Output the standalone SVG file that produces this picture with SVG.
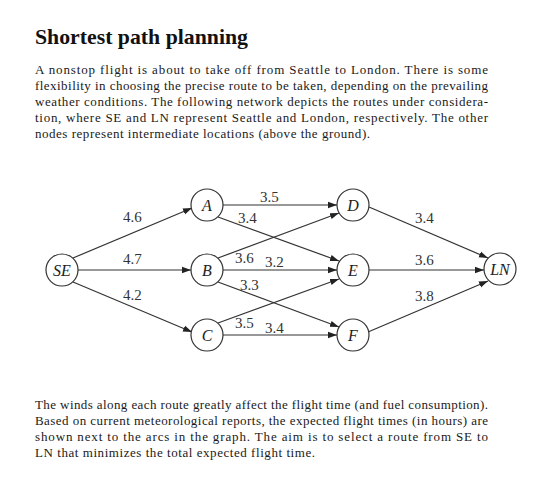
<svg xmlns="http://www.w3.org/2000/svg" width="540" height="479" viewBox="0 0 540 479">
<defs>
<marker id="ah" viewBox="0 0 10 10" refX="10" refY="5" markerWidth="9" markerHeight="9" markerUnits="userSpaceOnUse" orient="auto">
<path d="M0,1.5 L10,5 L0,8.5 Z" fill="#222"/>
</marker>
<style>
.t{font-family:"Liberation Serif","Times New Roman",serif;font-size:13px;fill:#1a1a1a}
.h{font-family:"Liberation Serif","Times New Roman",serif;font-size:21px;font-weight:bold;fill:#111}
.e{stroke:#333;stroke-width:1.2;fill:none;marker-end:url(#ah)}
.n circle{fill:#fff;stroke:#333;stroke-width:1.2}
.n text{font-family:"Liberation Serif","Times New Roman",serif;font-style:italic;font-size:16px;fill:#222;text-anchor:middle}
.w{font-family:"Liberation Serif","Times New Roman",serif;font-size:15px;fill:#333}
</style>
</defs>
<rect width="540" height="479" fill="#fff"/>
<text class="h" x="35" y="44" textLength="213" lengthAdjust="spacingAndGlyphs">Shortest path planning</text>
<g id="para1">
<text class="t" x="35" y="74" textLength="453" lengthAdjust="spacing">A nonstop flight is about to take off from Seattle to London.  There is some</text>
<text class="t" x="35" y="90" textLength="453" lengthAdjust="spacing">flexibility in choosing the precise route to be taken, depending on the prevailing</text>
<text class="t" x="35" y="106" textLength="453" lengthAdjust="spacing">weather conditions. The following network depicts the routes under considera-</text>
<text class="t" x="35" y="122" textLength="453" lengthAdjust="spacing">tion, where SE and LN represent Seattle and London, respectively. The other</text>
<text class="t" x="35" y="138" textLength="335" lengthAdjust="spacing">nodes represent intermediate locations (above the ground).</text>
</g>
<g id="connectors">
<line class="e" x1="73" y1="258" x2="192" y2="208"/>
<line class="e" x1="78" y1="270" x2="191" y2="270"/>
<line class="e" x1="73" y1="282" x2="192" y2="332"/>
<line class="e" x1="223" y1="205" x2="337" y2="205"/>
<line class="e" x1="218" y1="217" x2="339" y2="261"/>
<line class="e" x1="218" y1="258" x2="339" y2="213"/>
<line class="e" x1="223" y1="270" x2="337" y2="270"/>
<line class="e" x1="218" y1="282" x2="339" y2="327"/>
<line class="e" x1="218" y1="323" x2="339" y2="279"/>
<line class="e" x1="223" y1="335" x2="337" y2="335"/>
<line class="e" x1="369" y1="207" x2="488" y2="258"/>
<line class="e" x1="369" y1="270" x2="484" y2="270"/>
<line class="e" x1="368" y1="332" x2="488" y2="281"/>
<text class="w" x="123" y="222">4.6</text>
<text class="w" x="123" y="264">4.7</text>
<text class="w" x="123" y="300">4.2</text>
<text class="w" x="260" y="202">3.5</text>
<text class="w" x="238" y="223">3.4</text>
<text class="w" x="235" y="263">3.6</text>
<text class="w" x="265" y="267">3.2</text>
<text class="w" x="240" y="290">3.3</text>
<text class="w" x="235" y="328">3.5</text>
<text class="w" x="265" y="333">3.4</text>
<text class="w" x="415" y="223">3.4</text>
<text class="w" x="415" y="265">3.6</text>
<text class="w" x="415" y="301">3.8</text>
</g>
<g id="SE" class="n"><circle cx="62" cy="270" r="16"/><text x="62" y="275.5">SE</text></g>
<g id="A" class="n"><circle cx="207" cy="205" r="16"/><text x="207" y="210.5">A</text></g>
<g id="B" class="n"><circle cx="207" cy="270" r="16"/><text x="207" y="275.5">B</text></g>
<g id="C" class="n"><circle cx="207" cy="335" r="16"/><text x="207" y="340.5">C</text></g>
<g id="D" class="n"><circle cx="353" cy="205" r="16"/><text x="353" y="210.5">D</text></g>
<g id="E" class="n"><circle cx="353" cy="270" r="16"/><text x="353" y="275.5">E</text></g>
<g id="F" class="n"><circle cx="353" cy="335" r="16"/><text x="353" y="340.5">F</text></g>
<g id="LN" class="n"><circle cx="500" cy="269" r="16"/><text x="500" y="274.5">LN</text></g>
<g id="para2">
<text class="t" x="35" y="409" textLength="453" lengthAdjust="spacing">The winds along each route greatly affect the flight time (and fuel consumption).</text>
<text class="t" x="35" y="425" textLength="453" lengthAdjust="spacing">Based on current meteorological reports, the expected flight times (in hours) are</text>
<text class="t" x="35" y="441" textLength="453" lengthAdjust="spacing">shown next to the arcs in the graph.  The aim is to select a route from SE to</text>
<text class="t" x="35" y="457" textLength="280" lengthAdjust="spacing">LN that minimizes the total expected flight time.</text>
</g>
</svg>
